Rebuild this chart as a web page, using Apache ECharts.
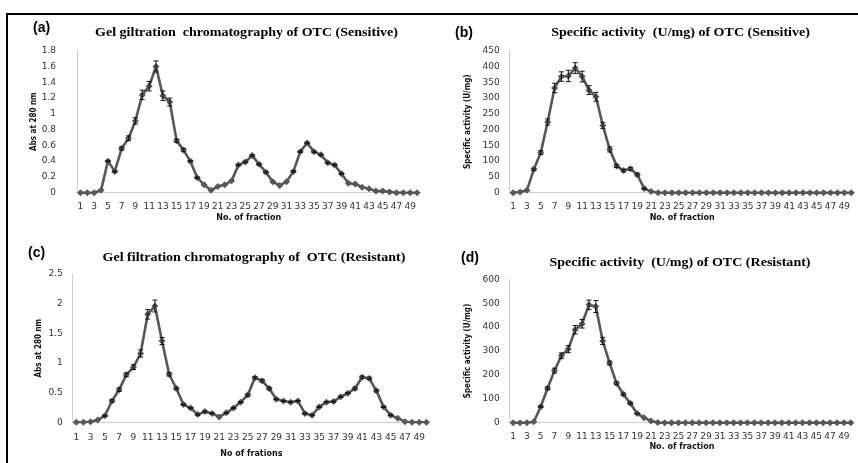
<!DOCTYPE html>
<html><head><meta charset="utf-8">
<script src="https://cdn.jsdelivr.net/npm/echarts@6/dist/echarts.min.js"></script>
<style>html,body{margin:0;padding:0;background:#fff}#c{width:858px;height:463px}</style>
</head><body><div id="c"></div>
<script>
const categories = ['1','2','3','4','5','6','7','8','9','10','11','12','13','14','15','16','17','18','19','20','21','22','23','24','25','26','27','28','29','30','31','32','33','34','35','36','37','38','39','40','41','42','43','44','45','46','47','48','49','50'];

const absSensitive = [0,0,0,0.03,0.40,0.27,0.56,0.69,0.91,1.24,1.35,1.60,1.23,1.15,0.66,0.54,0.40,0.19,0.10,0.03,0.08,0.10,0.15,0.35,0.39,0.47,0.36,0.26,0.14,0.09,0.14,0.27,0.52,0.63,0.52,0.48,0.38,0.35,0.24,0.12,0.11,0.07,0.05,0.02,0.02,0.01,0,0,0,0];
const absSensitiveErr = [0,0,0,0,0.01,0.01,0.02,0.03,0.04,0.06,0.06,0.07,0.06,0.05,0.02,0.02,0.01,0.01,0,0,0,0,0,0.01,0.01,0.01,0.01,0.01,0,0,0,0.01,0.01,0.01,0.01,0.01,0.01,0.01,0.01,0,0,0,0,0,0,0,0,0,0,0];

const actSensitive = [0,2,8,74,127,224,332,368,370,395,368,325,304,213,137,85,70,76,57,13,4,0,0,0,0,0,0,0,0,0,0,0,0,0,0,0,0,0,0,0,0,0,0,0,0,0,0,0,0,0];
const actSensitiveErr = [0,0,0,4,6,10,15,15,18,17,17,14,14,10,8,5,4,4,4,2,0,0,0,0,0,0,0,0,0,0,0,0,0,0,0,0,0,0,0,0,0,0,0,0,0,0,0,0,0,0];

const absResistant = [0,0,0.01,0.04,0.11,0.36,0.55,0.80,0.93,1.16,1.82,1.96,1.37,0.81,0.57,0.30,0.24,0.13,0.18,0.15,0.09,0.16,0.24,0.34,0.46,0.75,0.70,0.57,0.39,0.36,0.34,0.36,0.15,0.12,0.26,0.34,0.35,0.43,0.49,0.57,0.76,0.74,0.53,0.26,0.12,0.07,0.01,0,0,0];
const absResistantErr = [0,0,0,0,0.01,0.02,0.03,0.03,0.04,0.06,0.08,0.10,0.06,0.03,0.02,0.01,0.01,0.01,0.01,0.01,0,0.01,0.01,0.01,0.02,0.02,0.02,0.02,0.01,0.01,0.01,0.01,0.01,0.01,0.01,0.01,0.01,0.01,0.01,0.02,0.02,0.02,0.02,0.01,0.01,0,0,0,0,0];

const actResistant = [0,0,0,4,67,144,218,280,308,389,414,493,486,342,250,165,119,81,38,21,7,1,0,0,0,0,0,0,0,0,0,0,0,0,0,0,0,0,0,0,0,0,0,0,0,0,0,0,0,0];
const actResistantErr = [0,0,0,0,4,6,10,12,15,18,18,20,25,15,8,6,5,4,2,0,0,0,0,0,0,0,0,0,0,0,0,0,0,0,0,0,0,0,0,0,0,0,0,0,0,0,0,0,0,0];

const panelLetters = ['(a)','(b)','(c)','(d)'];
const panelTitles = ['Gel giltration  chromatography of OTC (Sensitive)','Specific activity  (U/mg) of OTC (Sensitive)','Gel filtration chromatography of  OTC (Resistant)','Specific activity  (U/mg) of OTC (Resistant)'];
const yNames = ['Abs at 280 nm','Specific activity (U/mg)','Abs at 280 nm','Specific activity (U/mg)'];
const xNames = ['No. of fraction','No. of fraction','No of frations','No. of fraction'];

const seriesVals = [absSensitive, actSensitive, absResistant, actResistant];
const seriesErrs = [absSensitiveErr, actSensitiveErr, absResistantErr, actResistantErr];
const yMax = [1.8, 450, 2.5, 600];
const yInt = [0.2, 50, 0.5, 100];

// layout
const grids = [
  {left:77, top:50.7, width:343.5, height:142},
  {left:509.7, top:50.7, width:345, height:142},
  {left:72.7, top:274, width:357.3, height:148.3},
  {left:509.7, top:279.3, width:344.5, height:143.4}
];
const yLabelMargin = [21, 10, 10, 10];
const yNameGap = [38, 38, 30, 38];
const xLabelMargin = [9, 9, 11, 9];
const xNameGap = [21, 21, 28, 20];
const letterPos = [[33,28],[455,33],[28,253],[461,258]];
const titlePos = [[246.5,33],[680.5,33],[254,258],[680,263]];

const lineColor = '#575757';
const axisColor = '#d0d0d0';

const xAxes = [], yAxes = [], series = [], graphics = [];
for (let i = 0; i < 4; i++) {
  xAxes.push({
    type:'category', gridIndex:i, data:categories, boundaryGap:true,
    axisLine:{lineStyle:{color:axisColor, width:1}}, axisTick:{show:false},
    axisLabel:{interval:1, fontSize:9, fontFamily:'DejaVu Sans', color:'#333', margin:xLabelMargin[i], hideOverlap:false},
    name:xNames[i], nameLocation:'middle', nameGap:xNameGap[i],
    nameTextStyle:{fontSize:8, fontWeight:'bold', fontFamily:'DejaVu Sans', color:'#111'}
  });
  yAxes.push({
    type:'value', gridIndex:i, min:0, max:yMax[i], interval:yInt[i],
    axisLine:{show:true, lineStyle:{color:axisColor, width:1}}, axisTick:{show:false},
    splitLine:{show:false},
    axisLabel:{fontSize:9, fontFamily:'DejaVu Sans', color:'#333', margin:yLabelMargin[i]},
    name:yNames[i], nameLocation:'middle', nameGap:yNameGap[i], nameRotate:90,
    nameTextStyle:{fontSize:8, fontWeight:'bold', fontFamily:'DejaVu Sans Condensed', color:'#111'}
  });
  series.push({
    type:'line', xAxisIndex:i, yAxisIndex:i, data:seriesVals[i],
    symbol:'diamond', symbolSize:7, showAllSymbol:true,
    lineStyle:{color:lineColor, width:2.6}, itemStyle:{color:lineColor},
    animation:false, z:3
  });
  const errData = seriesVals[i].map((v, k) => [k, v, seriesErrs[i][k]]);
  series.push({
    type:'custom', xAxisIndex:i, yAxisIndex:i, data:errData, z:4, animation:false,
    renderItem:function(params, api){
      const e = api.value(2);
      if (!e) return null;
      const x = api.value(0), v = api.value(1);
      const hi = api.coord([x, v + e]);
      const lo = api.coord([x, v - e]);
      const cw = 2.5;
      const st = {stroke:'#111', lineWidth:1};
      return {type:'group', children:[
        {type:'line', shape:{x1:hi[0], y1:hi[1], x2:lo[0], y2:lo[1]}, style:st},
        {type:'line', shape:{x1:hi[0]-cw, y1:hi[1], x2:hi[0]+cw, y2:hi[1]}, style:st},
        {type:'line', shape:{x1:lo[0]-cw, y1:lo[1], x2:lo[0]+cw, y2:lo[1]}, style:st}
      ]};
    }
  });
  graphics.push({type:'text', x:letterPos[i][0], y:letterPos[i][1], style:{text:panelLetters[i], font:'bold 14px "Liberation Sans"', fill:'#000', textAlign:'left', textVerticalAlign:'middle', verticalAlign:'middle'}});
  graphics.push({type:'text', x:titlePos[i][0], y:titlePos[i][1], scaleX:1.22, style:{text:panelTitles[i], font:'bold 11.5px "Liberation Serif"', fill:'#000', textAlign:'center', textVerticalAlign:'middle', verticalAlign:'middle'}});
}
graphics.push({type:'polyline', shape:{points:[[7,470],[7,14],[870,14]]}, style:{stroke:'#000', lineWidth:2, fill:null}});

const chart = echarts.init(document.getElementById('c'), null, {renderer:'canvas'});
chart.setOption({
  animation:false,
  backgroundColor:'#fff',
  grid:grids,
  xAxis:xAxes,
  yAxis:yAxes,
  series:series,
  graphic:graphics
});
</script></body></html>
